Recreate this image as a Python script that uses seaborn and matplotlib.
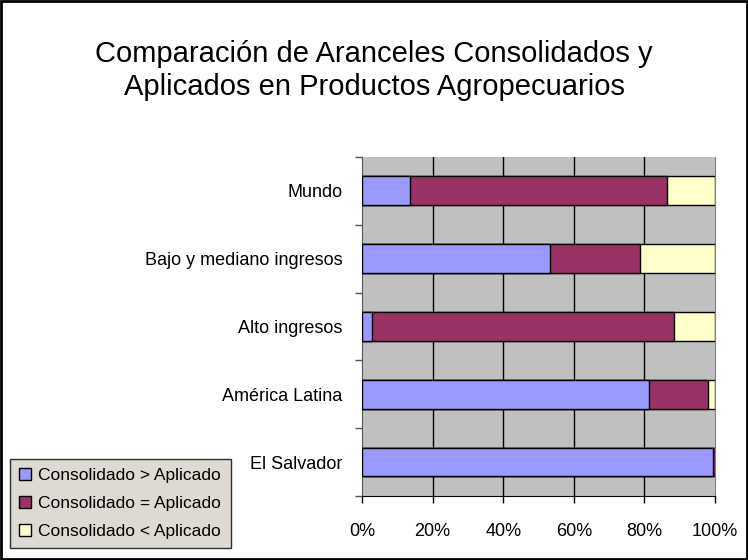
import numpy as np
import pandas as pd
import seaborn as sns
import matplotlib.pyplot as plt
from matplotlib.patches import Patch, Rectangle
from matplotlib.ticker import FuncFormatter

# Data (percent shares)
regions = ['Mundo', 'Bajo y mediano ingresos', 'Alto ingresos', 'América Latina', 'El Salvador']
consol_mayor = [13.7, 53.3, 2.8, 81.3, 99.5]
consol_igual = [72.7, 25.3, 85.7, 16.6, 0.5]
consol_menor = [13.6, 21.4, 11.5, 2.1, 0.0]
series_names = ['Consolidado > Aplicado', 'Consolidado = Aplicado', 'Consolidado < Aplicado']
colors = ['#9999FF', '#993366', '#FFFFCC']
title = 'Comparación de Aranceles Consolidados y\nAplicados en Productos Agropecuarios'

df = pd.DataFrame({'region': regions, 'mayor': consol_mayor,
                   'igual': consol_igual, 'menor': consol_menor})
df['c1'] = df['mayor']
df['c2'] = df['mayor'] + df['igual']
df['c3'] = df['c2'] + df['menor']

plt.rcParams['font.family'] = ['Liberation Sans', 'DejaVu Sans']

fig = plt.figure(figsize=(7.48, 5.6), dpi=100)
ax = fig.add_axes([0.484, 0.114, 0.472, 0.606])
ax.set_facecolor('#C0C0C0')

# stacked bars: draw cumulative totals, longest first
for col, c in zip(['c3', 'c2', 'c1'], colors[::-1]):
    sns.barplot(data=df, x=col, y='region', order=regions, color=c, width=0.42,
                edgecolor='black', linewidth=1, saturation=1, ax=ax, zorder=3)

ax.set_xlim(0, 100)
ax.set_ylim(len(regions) - 0.5, -0.5)
ax.set_xticks([0, 20, 40, 60, 80, 100])
ax.xaxis.set_major_formatter(FuncFormatter(lambda v, p: f'{v:.0f}%'))
for v in [20, 40, 60, 80]:
    ax.axvline(v, color='black', lw=1, zorder=1)
ax.set_xlabel('')
ax.set_ylabel('')

ax.set_yticks(range(len(regions)))
ax.set_yticklabels(regions, fontsize=13)
ax.set_yticks(np.arange(-0.5, len(regions)), minor=True)
ax.tick_params(axis='y', which='major', length=0, pad=14)
ax.tick_params(axis='y', which='minor', length=5, width=1, color='#555555', direction='out')
ax.tick_params(axis='x', length=5, width=1, direction='out', pad=14, labelsize=13)

ax.spines['top'].set_visible(False)
ax.spines['right'].set_color('#808080')
ax.spines['left'].set_color('#555555')
ax.spines['bottom'].set_color('black')

fig.text(0.5, 0.874, title, ha='center', va='center', fontsize=21, linespacing=1.22)

handles = [Patch(facecolor=c, edgecolor='black', lw=1) for c in colors]
leg = fig.legend(handles, series_names, loc='lower left', bbox_to_anchor=(0.013, 0.021),
                 frameon=True, fancybox=False, facecolor='#D8D0C8', edgecolor='black',
                 prop={'size': 12.5}, handlelength=0.7, handleheight=0.7,
                 handletextpad=0.4, labelspacing=0.72, borderpad=0.55, borderaxespad=0)
leg.get_frame().set_linewidth(1)

fig.patches.append(Rectangle((0.002, 0.002), 0.996, 0.996, transform=fig.transFigure,
                             fill=False, edgecolor='black', lw=2))

fig.savefig('out.png', dpi=100)
